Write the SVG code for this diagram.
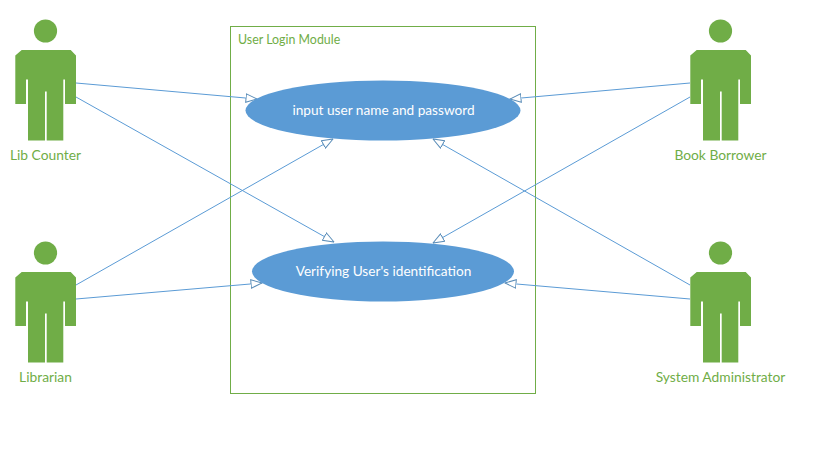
<svg xmlns="http://www.w3.org/2000/svg" width="831" height="462" viewBox="0 0 831 462">
<style>
.actor{fill:#70ad47}
.lbl{font-family:Lato,"Open Sans",sans-serif;font-size:13.800px;fill:#70ad47;text-anchor:middle}
.uc{fill:#5b9bd5}
.uct{font-family:Lato,"Open Sans",sans-serif;font-size:13.650px;fill:#fff;text-anchor:middle}
.c{stroke:#5b9bd5;stroke-width:1;fill:none;marker-end:url(#tri)}
</style>
<defs>
<marker id="tri" viewBox="0 0 12 10" refX="11.500" refY="5" markerWidth="12" markerHeight="10" markerUnits="userSpaceOnUse" orient="auto">
<path d="M0.500 0.800L11.500 5L0.500 9.200Z" fill="#fff" stroke="#5b8db8" stroke-width="1"/>
</marker>
<g id="person">
<circle cx="45.500" cy="31" r="11.600"/>
<path d="M21.700 50H70.700L76 55.500V104H65V79.500H63.300V140.500H46.700V91.500H45V140.500H28V79.500H26V104H15.300V55.500Z"/>
</g>
</defs>
<rect width="831" height="462" fill="#fff"/>
<g id="system">
<rect x="230.500" y="26.500" width="305" height="367" fill="#fff" stroke="#70ad47" stroke-width="1"/>
<text x="238" y="44" font-family="Lato,'Open Sans',sans-serif" font-size="12.400" fill="#70ad47">User Login Module</text>
</g>
<g id="connectors">
<line class="c" x1="76" y1="83" x2="257" y2="99"/>
<line class="c" x1="76" y1="97" x2="334" y2="242"/>
<line class="c" x1="76" y1="285" x2="333" y2="139"/>
<line class="c" x1="76" y1="299" x2="262" y2="283"/>
<line class="c" x1="690" y1="83" x2="510" y2="99"/>
<line class="c" x1="690" y1="97" x2="433" y2="243"/>
<line class="c" x1="690" y1="285" x2="433" y2="139"/>
<line class="c" x1="690" y1="299" x2="505" y2="283"/>
</g>
<g id="uc-login">
<ellipse class="uc" cx="383" cy="110.500" rx="137.500" ry="30"/>
<text class="uct" x="383.500" y="115">input user name and password</text>
</g>
<g id="uc-verify">
<ellipse class="uc" cx="383" cy="271.500" rx="131" ry="30"/>
<text class="uct" x="383.500" y="276">Verifying User's identification</text>
</g>
<g id="lib-counter"><use href="#person" class="actor"/><text class="lbl" x="45.500" y="160">Lib Counter</text></g>
<g id="librarian"><use href="#person" class="actor" y="222"/><text class="lbl" x="45.500" y="382">Librarian</text></g>
<g id="book-borrower"><use href="#person" class="actor" x="675"/><text class="lbl" x="720.500" y="160">Book Borrower</text></g>
<g id="system-admin"><use href="#person" class="actor" x="675" y="222"/><text class="lbl" x="720.500" y="382">System Administrator</text></g>
</svg>
